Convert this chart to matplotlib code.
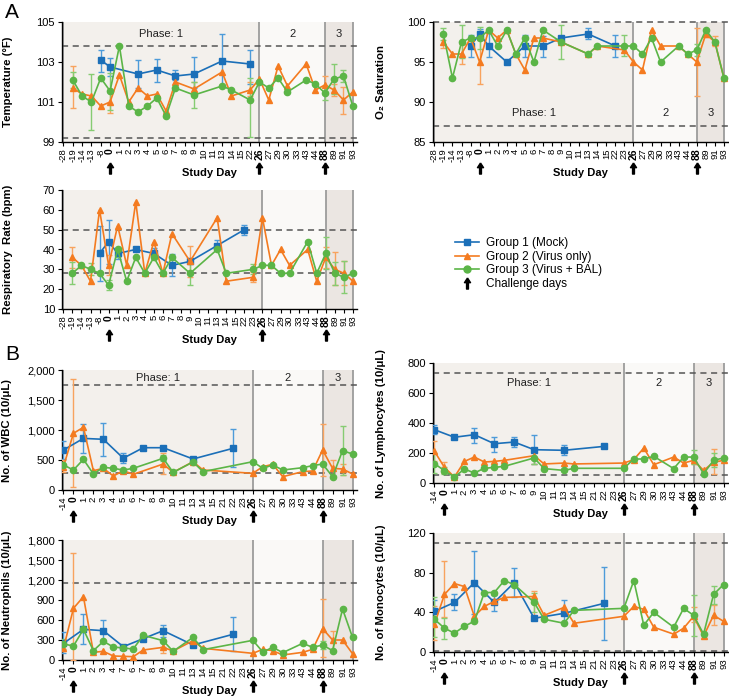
import matplotlib
matplotlib.use("Agg")
import matplotlib.pyplot as plt
from matplotlib.path import Path
from matplotlib.lines import Line2D
from matplotlib.ticker import FuncFormatter
import matplotlib.transforms as mtransforms

plt.rcParams['font.family'] = ['Liberation Sans', 'DejaVu Sans']

# ---- x categories ----
temp_days = [-28, -19, -14, -13, -8, 0, 1, 2, 3, 4, 5, 6, 7, 8, 9, 10, 11, 13, 14, 15, 22,
             26, 27, 29, 30, 33, 43, 44, 88, 89, 91, 93]
vit_days = [-28, -19, -14, -13, -8, 0, 1, 2, 3, 4, 5, 6, 7, 8, 9, 10, 11, 13, 14, 15, 22, 23,
            26, 27, 29, 30, 33, 43, 44, 88, 89, 91, 93]
blood_days = [-14, 0, 1, 2, 3, 4, 5, 6, 7, 8, 9, 10, 11, 13, 14, 15, 21, 22, 23,
              26, 27, 29, 30, 33, 43, 44, 88, 89, 91, 93]
neut_labels = [str(d) for d in blood_days]
neut_labels[6] = "7"   # as printed in the source figure
challenge_days = [0, 26, 88]

# ---- temperature (F) ----
temp_g1 = {-8: 103.1, 0: 102.75, 3: 102.4, 5: 102.6, 7: 102.3, 9: 102.4, 13: 103.05, 22: 102.9}
temp_g1_err = {-8: (102.5, 103.6), 0: (102.3, 103.2), 3: (101.7, 103.1), 5: (102.0, 103.15),
               7: (102.1, 102.6), 9: (101.7, 103.25), 13: (101.8, 104.4), 22: (101.9, 103.6)}
temp_g2 = {-19: 101.7, -14: 101.4, -13: 101.3, -8: 100.8, 0: 101.0, 1: 102.35, 2: 101.0, 3: 101.7,
           4: 101.3, 5: 101.4, 6: 100.55, 7: 102.0, 9: 101.65, 13: 102.5, 14: 101.3, 22: 101.6,
           26: 102.15, 27: 101.1, 29: 102.8, 30: 101.8, 43: 102.9, 44: 101.6, 88: 101.85,
           89: 101.6, 91: 101.1, 93: 101.5}
temp_g2_err = {-19: (100.7, 102.8), 0: (100.45, 101.5), 9: (101.5, 102.0), 22: (101.3, 102.0),
               88: (101.4, 102.3), 89: (101.3, 101.9), 91: (100.4, 101.75)}
temp_g3 = {-19: 102.1, -14: 101.3, -13: 101.0, -8: 102.2, 0: 101.55, 1: 103.8, 2: 100.8, 3: 100.5,
           4: 100.8, 5: 101.2, 6: 100.3, 7: 101.7, 9: 101.35, 13: 101.8, 14: 101.6, 22: 101.1,
           26: 102.0, 27: 101.7, 29: 102.2, 30: 101.5, 43: 102.1, 44: 101.9, 88: 101.45,
           89: 102.15, 91: 102.3, 93: 100.8}
temp_g3_err = {-19: (101.7, 102.5), -13: (99.6, 102.4), 0: (100.6, 102.45), 9: (100.7, 102.0),
               22: (99.25, 102.2), 88: (101.1, 101.8), 89: (101.4, 102.9), 91: (102.0, 102.6)}

# ---- O2 saturation ----
o2_g1 = {-8: 97.0, 0: 98.5, 1: 97.0, 3: 95.0, 5: 97.0, 7: 97.0, 9: 98.0, 13: 98.5, 22: 97.0}
o2_g1_err = {-8: (95.6, 98.4), 0: (97.8, 99.1), 1: (95.6, 98.6), 5: (95.6, 98.4),
             7: (95.6, 98.2), 13: (97.9, 99.2), 22: (95.6, 98.4)}
o2_g2 = {-19: 97.5, -14: 96.0, -13: 96.0, -8: 98.0, 0: 95.0, 1: 99.0, 2: 98.0, 3: 99.0, 4: 96.0,
         5: 94.0, 6: 98.0, 7: 98.0, 9: 97.5, 13: 96.0, 14: 97.0, 23: 96.5, 26: 95.0, 27: 94.0,
         29: 99.0, 30: 97.0, 43: 97.0, 44: 96.0, 88: 95.0, 89: 98.5, 91: 97.5, 93: 93.0}
o2_g2_err = {-19: (96.8, 98.3), -13: (94.7, 97.3), 0: (92.2, 97.8), 88: (90.8, 99.2),
             89: (98.1, 98.9), 91: (97.0, 98.2)}
o2_g3 = {-19: 98.5, -14: 93.0, -13: 97.5, -8: 98.0, 0: 98.0, 1: 99.0, 2: 97.0, 3: 99.0, 4: 96.0,
         5: 98.0, 6: 95.0, 7: 99.0, 9: 97.5, 13: 96.0, 14: 97.0, 23: 97.0, 26: 97.0, 27: 96.0,
         29: 98.0, 30: 95.0, 43: 97.0, 44: 96.0, 88: 96.5, 89: 99.0, 91: 97.5, 93: 93.0}
o2_g3_err = {-19: (97.8, 99.2), -13: (95.5, 99.6), 0: (96.6, 99.4), 9: (95.4, 99.6),
             23: (95.7, 98.4), 88: (95.8, 97.2)}

# ---- respiratory rate (bpm) ----
rr_g1 = {-8: 38, 0: 44, 1: 38, 3: 40, 5: 38, 7: 32, 9: 34, 13: 42, 22: 50}
rr_g1_err = {-8: (24, 52), 0: (32.5, 55), 1: (35, 41), 5: (35, 41), 7: (26.5, 37.5),
             13: (40, 45), 22: (47.5, 52.5)}
rr_g2 = {-19: 36, -14: 32, -13: 24, -8: 60, 0: 32, 1: 52, 2: 32, 3: 64, 4: 28, 5: 44, 6: 28,
         7: 48, 9: 34, 13: 56, 14: 24, 23: 26, 26: 56, 27: 32, 29: 40, 30: 32, 43: 40, 44: 24,
         88: 36, 89: 30, 91: 28, 93: 24}
rr_g2_err = {-19: (30.5, 41.5), 0: (27, 37), 9: (26, 42), 23: (23.5, 28.5), 88: (30.5, 41.5),
             89: (22, 38.5), 91: (22, 34)}
rr_g3 = {-19: 28, -14: 32, -13: 30, -8: 28, 0: 22, 1: 40, 2: 24, 3: 36, 4: 28, 5: 36, 6: 28,
         7: 36, 9: 28, 13: 40, 14: 28, 23: 30, 26: 32, 27: 32, 29: 28, 30: 28, 43: 44, 44: 28,
         88: 38, 89: 28, 91: 26, 93: 28}
rr_g3_err = {-19: (22.5, 33.5), -13: (27, 33), 0: (19.5, 24.5), 1: (36, 41), 9: (22, 34),
             23: (27.5, 32.5), 88: (30, 46.5), 89: (22, 33.5), 91: (18, 34)}

# ---- WBC (10/uL) ----
wbc_g1 = {-14: 667, 1: 860, 3: 845, 5: 530, 7: 705, 9: 705, 13: 517, 22: 694}
wbc_g1_err = {-14: (520, 810), 1: (610, 1100), 3: (570, 1110), 5: (450, 610), 22: (380, 1020)}
wbc_g2 = {-14: 390, 0: 945, 1: 1045, 2: 322, 3: 361, 4: 233, 5: 322, 6: 261, 9: 433, 10: 294,
          13: 472, 14: 333, 26: 278, 27: 389, 29: 428, 30: 222, 43: 306, 44: 317, 88: 667,
          89: 361, 91: 350, 93: 267}
wbc_g2_err = {-14: (300, 500), 0: (50, 1850), 9: (270, 620), 88: (240, 1100), 89: (240, 500),
              91: (250, 440)}
wbc_g3 = {-14: 417, 0: 333, 1: 511, 2: 267, 3: 378, 4: 361, 5: 333, 6: 361, 9: 528, 10: 294,
          13: 467, 14: 306, 26: 472, 27: 361, 29: 417, 30: 333, 43: 372, 44: 406, 88: 433,
          89: 222, 91: 656, 93: 600}
wbc_g3_err = {9: (480, 580), 91: (250, 1060)}

# ---- lymphocytes (10/uL) ----
lym_g1 = {-14: 355, 1: 305, 3: 322, 5: 262, 7: 273, 9: 222, 13: 218, 22: 244}
lym_g1_err = {-14: (325, 385), 3: (270, 365), 5: (210, 305), 7: (240, 310), 9: (130, 320),
              13: (185, 255)}
lym_g2 = {-14: 211, 0: 104, 1: 40, 2: 144, 3: 173, 4: 140, 5: 144, 6: 151, 9: 182, 10: 127,
          13: 133, 14: 127, 26: 133, 27: 156, 29: 233, 30: 122, 43: 173, 44: 133, 88: 151,
          89: 84, 91: 138, 93: 151}
lym_g2_err = {-14: (150, 280), 0: (70, 140), 9: (130, 235), 88: (130, 175), 91: (60, 225)}
lym_g3 = {-14: 129, 0: 82, 1: 40, 2: 93, 3: 67, 4: 98, 5: 104, 6: 111, 9: 167, 10: 96, 13: 84,
          14: 98, 26: 98, 27: 160, 29: 160, 30: 178, 43: 96, 44: 173, 88: 173, 89: 62, 91: 151,
          93: 167}
lym_g3_err = {-14: (70, 200), 0: (60, 105), 9: (125, 215), 88: (130, 220), 91: (110, 200)}

# ---- neutrophils (10/uL) ----
neu_g1 = {-14: 250, 1: 460, 3: 440, 5: 200, 7: 320, 9: 440, 13: 225, 22: 385}
neu_g1_err = {-14: (100, 420), 1: (240, 690), 3: (290, 600), 9: (340, 520), 22: (130, 650)}
neu_g2 = {-14: 175, 0: 775, 1: 950, 2: 115, 3: 130, 4: 60, 5: 55, 6: 50, 7: 150, 9: 190,
          10: 135, 13: 290, 14: 175, 26: 100, 27: 160, 29: 140, 30: 75, 43: 115, 44: 160,
          88: 470, 89: 300, 91: 300, 93: 95}
neu_g2_err = {-14: (130, 220), 0: (0, 1600), 9: (100, 280), 88: (40, 910), 89: (140, 440)}
neu_g3 = {-14: 240, 0: 210, 1: 460, 2: 140, 3: 280, 4: 195, 5: 180, 6: 165, 7: 370, 9: 290,
          10: 130, 13: 340, 14: 155, 26: 295, 27: 120, 29: 190, 30: 110, 43: 250, 44: 190,
          88: 225, 89: 140, 91: 765, 93: 340}
neu_g3_err = {-14: (170, 320), 9: (200, 480), 88: (170, 290)}

# ---- monocytes (10/uL) ----
mon_g1 = {-14: 41, 1: 50, 3: 70, 5: 50, 7: 70, 9: 34, 13: 39, 22: 49}
mon_g1_err = {-14: (30, 52), 1: (42, 58), 3: (38, 102), 5: (41, 57), 7: (55, 85), 13: (29, 52),
              22: (12, 86)}
mon_g2 = {-14: 28, 0: 58, 1: 69, 2: 66, 3: 36, 4: 46, 5: 51, 6: 55, 9: 56, 10: 37, 13: 45,
          14: 29, 26: 36, 27: 46, 29: 43, 30: 25, 43: 18, 44: 24, 88: 36, 89: 16, 91: 37, 93: 31}
mon_g2_err = {-14: (12, 46), 0: (35, 92), 9: (35, 62), 88: (30, 45), 91: (27, 47)}
mon_g3 = {-14: 33, 0: 24, 1: 19, 2: 26, 3: 31, 4: 60, 5: 60, 6: 72, 7: 68, 9: 50, 10: 33,
          13: 29, 14: 42, 26: 44, 27: 72, 29: 27, 30: 40, 43: 25, 44: 44, 88: 37, 89: 18,
          91: 58, 93: 68}
mon_g3_err = {-14: (15, 55), 0: (13, 34), 9: (40, 60), 88: (16, 57), 91: (48, 67)}

BLUE, ORANGE, GREEN = "#1b6fb8", "#f47b20", "#5bb547"
BLUE_E, ORANGE_E, GREEN_E = "#4d9bd9", "#f8a35e", "#86cc72"
SHADE1, SHADE2, SHADE3 = "#f3f0ec", "#faf9f7", "#ebe6e2"

arrow = Path([(0, 1), (-0.55, 0.15), (-0.17, 0.15), (-0.17, -1), (0.17, -1),
              (0.17, 0.15), (0.55, 0.15), (0, 1)])

W, H = 729, 697
fig = plt.figure(figsize=(W / 100, H / 100), dpi=100)


def px_axes(x0, y0, x1, y1):
    return fig.add_axes([x0 / W, 1 - y1 / H, (x1 - x0) / W, (y1 - y0) / H])


def setup(ax, days, labels, ylim, yticks, ylabel, dashed, fmt=None, phase_y=None, ylab_x=-0.165):
    n = len(days)
    i26, i88 = days.index(26), days.index(88)
    ax.axvspan(0, i26, color=SHADE1, zorder=0, lw=0)
    ax.axvspan(i26, i88, color=SHADE2, zorder=0, lw=0)
    ax.axvspan(i88, n - 1, color=SHADE3, zorder=0, lw=0)
    for i in (0, i26, i88, n - 1):
        ax.axvline(i, color="#9c9c9c", lw=1.3, zorder=1)
    for y in dashed:
        ax.axhline(y, color="#555555", lw=1.1, ls=(0, (4, 3)), zorder=1, clip_on=False)
    ax.set_xlim(-0.15, n - 1 + 0.45)
    ax.set_ylim(*ylim)
    ax.set_yticks(yticks)
    if fmt:
        ax.yaxis.set_major_formatter(FuncFormatter(fmt))
    ax.set_xticks(range(n))
    ax.set_xticklabels(labels, rotation=90, fontsize=6.8)
    for lab, d in zip(ax.get_xticklabels(), days):
        if d in challenge_days:
            lab.set_fontweight("bold")
            lab.set_fontsize(7.5)
    ax.tick_params(axis="x", length=3, width=0.8, pad=1.5)
    ax.tick_params(axis="y", length=3, width=0.8, labelsize=8, pad=2)
    for s in ("top", "right"):
        ax.spines[s].set_visible(False)
    ax.spines["left"].set_linewidth(1.0)
    ax.spines["bottom"].set_linewidth(1.0)
    ax.set_ylabel(ylabel, fontsize=8.2, fontweight="bold")
    ax.yaxis.set_label_coords(ylab_x, 0.5)
    ax.text(0.5, -0.26, "Study Day", transform=ax.transAxes, ha="center", va="center",
            fontsize=8, fontweight="bold")
    trans = mtransforms.blended_transform_factory(ax.transData, ax.transAxes)
    for d in challenge_days:
        ax.plot(days.index(d), -0.215, marker=arrow, ms=8, color="k", transform=trans,
                clip_on=False, zorder=5)
    if phase_y is not None:
        ym = ax.get_ylim()
        yy = ym[0] + phase_y * (ym[1] - ym[0])
        for (a, b), t in zip(((0, i26), (i26, i88), (i88, n - 1)), ("Phase: 1", "2", "3")):
            ax.text((a + b) / 2, yy, t, ha="center", va="center", fontsize=8, color="#222222")


def series(ax, days, data, err, color, ecolor, marker, ms):
    xs = [days.index(d) for d in data]
    ax.plot(xs, list(data.values()), color=color, marker=marker, ms=ms, lw=1.2,
            mec=color, zorder=4)
    for d, (lo, hi) in err.items():
        v = data[d]
        ax.errorbar(days.index(d), v, yerr=[[v - lo], [hi - v]], fmt="none", ecolor=ecolor,
                    elinewidth=1.0, capsize=2.5, capthick=1.0, zorder=3)


def three(ax, days, g1, e1, g2, e2, g3, e3):
    series(ax, days, g1, e1, BLUE, BLUE_E, "s", 4)
    series(ax, days, g2, e2, ORANGE, ORANGE_E, "^", 4)
    series(ax, days, g3, e3, GREEN, GREEN_E, "o", 4.5)


comma = lambda v, p: f"{int(v):,}"
tl = [str(d) for d in temp_days]
vl = [str(d) for d in vit_days]
bl = [str(d) for d in blood_days]

ax = px_axes(62, 22, 357, 142)
setup(ax, temp_days, tl, (99, 105), [99, 101, 103, 105], "Temperature (°F)", [103.8, 99.2],
      phase_y=0.9)
three(ax, temp_days, temp_g1, temp_g1_err, temp_g2, temp_g2_err, temp_g3, temp_g3_err)

ax = px_axes(433, 22, 728, 142)
setup(ax, vit_days, vl, (85, 100), [85, 90, 95, 100], "O₂ Saturation", [100, 87],
      phase_y=0.24, ylab_x=-0.16)
three(ax, vit_days, o2_g1, o2_g1_err, o2_g2, o2_g2_err, o2_g3, o2_g3_err)

ax = px_axes(62, 190, 357, 309)
setup(ax, vit_days, vl, (10, 70), list(range(10, 71, 10)), "Respiratory  Rate (bpm)", [50, 28])
three(ax, vit_days, rr_g1, rr_g1_err, rr_g2, rr_g2_err, rr_g3, rr_g3_err)

ax = px_axes(62, 370, 357, 490)
setup(ax, blood_days, bl, (0, 2000), [0, 500, 1000, 1500, 2000], "No. of WBC (10/μL)",
      [1750, 280], fmt=comma, phase_y=0.93, ylab_x=-0.17)
three(ax, blood_days, wbc_g1, wbc_g1_err, wbc_g2, wbc_g2_err, wbc_g3, wbc_g3_err)

ax = px_axes(433, 363, 728, 483)
setup(ax, blood_days, bl, (0, 800), [0, 200, 400, 600, 800], "No. of Lymphocytes (10/μL)",
      [735, 55], phase_y=0.83, ylab_x=-0.16)
three(ax, blood_days, lym_g1, lym_g1_err, lym_g2, lym_g2_err, lym_g3, lym_g3_err)

ax = px_axes(62, 540, 357, 660)
setup(ax, blood_days, neut_labels, (0, 1800), list(range(0, 1801, 300)),
      "No. of Neutrophils (10/μL)", [1160], fmt=comma, ylab_x=-0.17)
three(ax, blood_days, neu_g1, neu_g1_err, neu_g2, neu_g2_err, neu_g3, neu_g3_err)

ax = px_axes(433, 533, 728, 652)
setup(ax, blood_days, bl, (0, 120), [0, 40, 80, 120], "No. of Monocytes (10/μL)", [110, 1],
      ylab_x=-0.16)
three(ax, blood_days, mon_g1, mon_g1_err, mon_g2, mon_g2_err, mon_g3, mon_g3_err)

fig.text(5 / W, 1 - 12 / H, "A", fontsize=15, va="center", ha="left")
fig.text(5 / W, 1 - 355 / H, "B", fontsize=15, va="center", ha="left")

handles = [
    Line2D([], [], color=BLUE, marker="s", ms=4, lw=1.2),
    Line2D([], [], color=ORANGE, marker="^", ms=4, lw=1.2),
    Line2D([], [], color=GREEN, marker="o", ms=5, lw=1.2),
    Line2D([], [], color="k", marker=arrow, ms=8, lw=0),
]
fig.legend(handles, ["Group 1 (Mock)", "Group 2 (Virus only)", "Group 3 (Virus + BAL)",
                     "Challenge days"],
           loc="upper left", bbox_to_anchor=(449 / W, 1 - 231 / H), frameon=False,
           fontsize=8.5, handlelength=2.0, handletextpad=0.6, labelspacing=0.15,
           borderpad=0)

fig.savefig("out.png", dpi=100)
